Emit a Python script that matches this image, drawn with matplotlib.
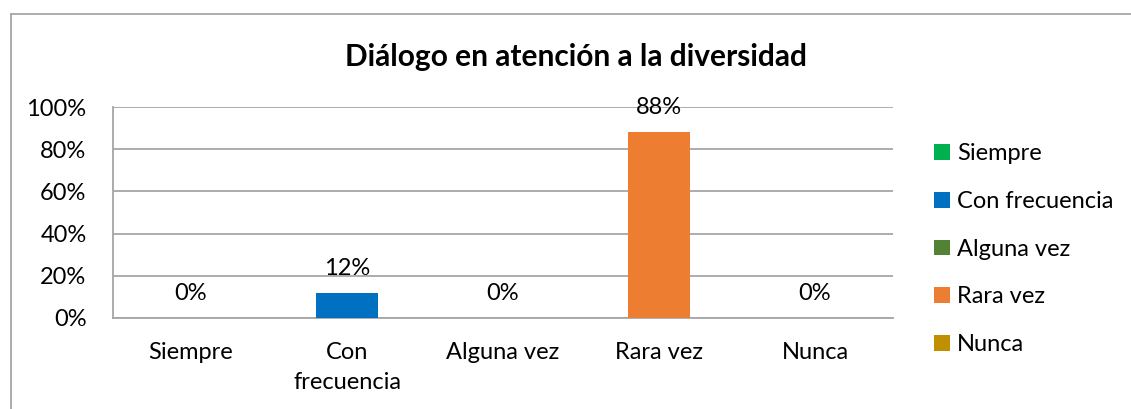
import matplotlib.pyplot as plt
from matplotlib.lines import Line2D
from matplotlib.patches import Patch

categories = ["Siempre", "Con\nfrecuencia", "Alguna vez", "Rara vez", "Nunca"]
legend_names = ["Siempre", "Con frecuencia", "Alguna vez", "Rara vez", "Nunca"]
values = [0.00, 0.12, 0.00, 0.88, 0.00]
colors = ["#00B050", "#0070C0", "#548235", "#ED7D31", "#BF9000"]
yticks = [0, 0.2, 0.4, 0.6, 0.8, 1.0]

plt.rcParams['font.family'] = ['Lato', 'DejaVu Sans']
grid_col = "#A6A6A6"
fs = 17

fig = plt.figure(figsize=(11.31, 4.09), dpi=100)
W, H = 1131, 409

# chart frame (cut off at right and bottom)
fig.add_artist(Line2D([11 / W, 11 / W], [0, 1 - 14 / H], color=grid_col, lw=1.3, transform=fig.transFigure))
fig.add_artist(Line2D([11 / W, 1], [1 - 14 / H, 1 - 14 / H], color=grid_col, lw=1.3, transform=fig.transFigure))

ax = fig.add_axes([113 / W, 1 - 318 / H, 780 / W, 211 / H])
x = range(len(values))
bars = ax.bar(x, values, width=0.4, color=colors, zorder=3)

ax.set_xlim(-0.5, len(values) - 0.5)
ax.set_ylim(0, 1.0)
ax.set_yticks(yticks)
ax.set_yticklabels([f"{int(round(t * 100))}%" for t in yticks], fontsize=fs)
ax.set_xticks(list(x))
ax.set_xticklabels(categories, fontsize=fs, linespacing=1.55)
ax.tick_params(length=0)
ax.tick_params(axis='y', pad=19)
ax.tick_params(axis='x', pad=17)
ax.grid(axis='y', color=grid_col, lw=1.3, zorder=0)
for s in ["top", "right"]:
    ax.spines[s].set_visible(False)
for s in ["left", "bottom"]:
    ax.spines[s].set_color(grid_col)
    ax.spines[s].set_linewidth(1.3)

for xi, v in zip(x, values):
    ax.annotate(f"{int(round(v * 100))}%", (xi, v), xytext=(0, 10), textcoords="offset points",
                ha="center", va="bottom", fontsize=fs)

fig.text(576 / W, 1 - 57 / H, "Diálogo en atención a la diversidad", ha="center", va="center",
         fontsize=21.5, fontweight="bold")

handles = [Patch(facecolor=c) for c in colors]
fig.legend(handles, legend_names, loc="upper left", bbox_to_anchor=(925 / W, 1 - 134 / H),
           frameon=False, fontsize=fs, handlelength=0.65, handleheight=0.65,
           handletextpad=0.3, labelspacing=1.13, borderaxespad=0)

fig.savefig("out.png", dpi=100)
